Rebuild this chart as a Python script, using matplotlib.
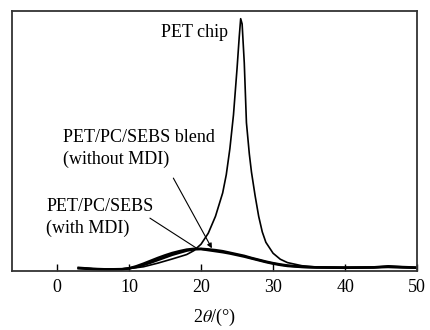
import matplotlib
matplotlib.use("Agg")
import matplotlib.pyplot as plt

plt.rcParams["font.family"] = ["Liberation Serif", "DejaVu Serif"]
plt.rcParams["mathtext.fontset"] = "stix"

# PET chip (sharp crystalline peak)
chip_x = [3, 5, 8, 10, 12, 14, 16, 18, 19, 20, 21, 22, 23, 23.5, 24, 24.5, 25, 25.3,
          25.5, 25.7, 26, 26.3, 26.7, 27, 27.5, 28, 28.5, 29, 30, 31, 32, 34, 36, 40, 45, 50]
chip_y = [1.2, 0.8, 0.7, 0.9, 1.6, 3.0, 4.6, 6.3, 7.8, 10.3, 14.5, 21, 30, 37, 47, 60, 78, 90,
          97, 95, 80, 57, 45, 38, 29, 21, 15, 11, 6.8, 4.5, 3.2, 2.0, 1.5, 1.3, 1.4, 1.2]

# PET/PC/SEBS blend without MDI (amorphous hump)
blend_x = [3, 5, 7, 9, 10, 11, 12, 13, 14, 15, 16, 17, 18, 19, 20, 21, 22, 23, 24, 25,
           26, 27, 28, 29, 30, 31, 32, 34, 36, 40, 44, 46, 48, 50]
blend_y = [1.2, 0.8, 0.6, 0.7, 1.0, 1.5, 2.3, 3.2, 4.2, 5.2, 6.2, 7.0, 7.8, 8.3, 8.5, 8.3,
           8.0, 7.6, 7.0, 6.4, 5.8, 5.0, 4.3, 3.6, 3.0, 2.5, 2.1, 1.6, 1.4, 1.3, 1.4, 1.8, 1.5, 1.3]

# PET/PC/SEBS with MDI
mdi_x = [3, 5, 7, 9, 10, 11, 12, 13, 14, 15, 16, 17, 18, 19, 20, 21, 22, 23, 24, 25,
         26, 27, 28, 29, 30, 31, 32, 34, 36, 40, 44, 46, 48, 50]
mdi_y = [1.0, 0.7, 0.5, 0.6, 1.0, 1.8, 2.8, 3.9, 5.0, 6.0, 6.9, 7.6, 8.2, 8.5, 8.4, 8.0,
         7.6, 7.2, 6.7, 6.1, 5.5, 4.8, 4.1, 3.4, 2.8, 2.3, 1.9, 1.5, 1.3, 1.2, 1.3, 1.6, 1.4, 1.2]

xticks = [0, 10, 20, 30, 40, 50]

fig = plt.figure(figsize=(4.3, 3.3), dpi=100)
ax = fig.add_axes([0.028, 0.179, 0.942, 0.788])

ax.plot(chip_x, chip_y, color="black", lw=1.2)
ax.plot(blend_x, blend_y, color="black", lw=1.8)
ax.plot(mdi_x, mdi_y, color="black", lw=1.8)

ax.set_xlim(-6.25, 50)
ax.set_ylim(0, 100)
ax.set_xticks(xticks)
ax.set_yticks([])
ax.tick_params(axis="x", direction="in", length=5, width=1, labelsize=13, pad=6)
for s in ax.spines.values():
    s.set_linewidth(1.3)
    s.set_color("#333333")
ax.set_xlabel(r"2$\it{\theta}$/(°)", fontsize=13, labelpad=8)

ax.text(23.75, 91.5, "PET chip", fontsize=13, ha="right", va="center")
ax.text(0.83, 47.1, "PET/PC/SEBS blend\n(without MDI)", fontsize=13,
        ha="left", va="center", linespacing=1.35)
ax.text(-1.5, 20.6, "PET/PC/SEBS\n(with MDI)", fontsize=13,
        ha="left", va="center", linespacing=1.35)

ax.annotate("", xy=(21.5, 8.7), xytext=(16.15, 35.7),
            arrowprops=dict(arrowstyle="-|>", color="black", lw=0.8,
                            mutation_scale=7, shrinkA=0, shrinkB=0))
ax.annotate("", xy=(19.4, 8.7), xytext=(12.9, 20.3),
            arrowprops=dict(arrowstyle="-", color="black", lw=0.8,
                            shrinkA=0, shrinkB=0))

fig.savefig("out.png", dpi=100)
